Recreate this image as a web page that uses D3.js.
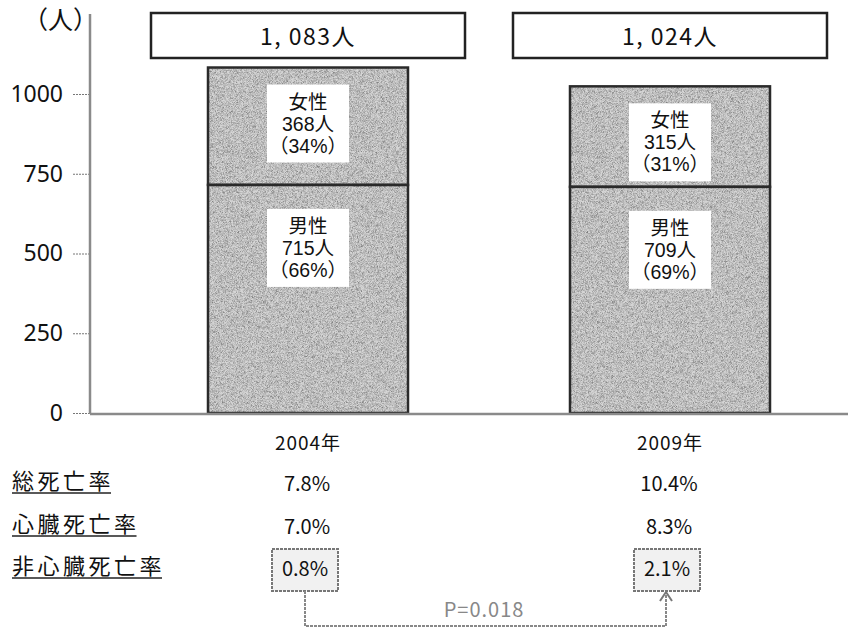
<!DOCTYPE html>
<html><head><meta charset="utf-8">
<script src="https://cdn.jsdelivr.net/npm/d3@7/dist/d3.min.js"></script>
<style>
html,body{margin:0;padding:0;background:#fff;}
svg{display:block;}
text{font-family:"Noto Sans CJK JP","Noto Sans",sans-serif;fill:#111;}
</style></head><body>
<script>
// Survey years and the two stacked groups (men at the bottom, women on top)
const years = ["2004年", "2009年"];
const men = [715, 709];
const women = [368, 315];
const totals = [1083, 1024];
const menPct = ["66%", "69%"];
const womenPct = ["34%", "31%"];
const yTicks = [0, 250, 500, 750, 1000];

// Mortality table under the bars
const rateLabels = ["総死亡率", "心臓死亡率", "非心臓死亡率"];
const totalRate = ["7.8%", "10.4%"];
const cardiacRate = ["7.0%", "8.3%"];
const nonCardiacRate = ["0.8%", "2.1%"];
const pValue = "P=0.018";

const W = 848, H = 629;
const svg = d3.select("body").append("svg").attr("width", W).attr("height", H);

const defs = svg.append("defs");
// fine per-pixel grey speckle laid over the bar fill
const f = defs.append("filter").attr("id", "grain").attr("x", 0).attr("y", 0).attr("width", 1).attr("height", 1);
f.append("feTurbulence").attr("type", "fractalNoise").attr("baseFrequency", 2.2).attr("numOctaves", 1).attr("seed", 5).attr("result", "n");
f.append("feColorMatrix").attr("in", "n").attr("type", "matrix")
  .attr("values", "2.2 0 0 0 -0.45  2.2 0 0 0 -0.45  2.2 0 0 0 -0.45  0 0 0 0 0.45").attr("result", "a");
f.append("feComposite").attr("in", "a").attr("in2", "SourceGraphic").attr("operator", "in").attr("result", "b");
f.append("feMerge").call(m => { m.append("feMergeNode").attr("in", "SourceGraphic"); m.append("feMergeNode").attr("in", "b"); });

const axisX = 90;
const y = d3.scaleLinear().domain([0, 1000]).range([413, 94]);
const x = d3.scaleBand().domain(years).range([208, 770]).paddingInner(0.4475).paddingOuter(0);
// centre of each band
const cx = d => x(d) + x.bandwidth() / 2;

// y axis
const yAxis = d3.axisLeft(y).tickValues(yTicks).tickSize(17).tickPadding(10).tickFormat(d3.format("d"));
const gA = svg.append("g").attr("transform", `translate(${axisX},0)`).call(yAxis);
gA.select(".domain").remove();
gA.selectAll(".tick line").attr("stroke", "#777").attr("stroke-width", 1).attr("stroke-dasharray", "2,1");
gA.selectAll(".tick text").attr("font-size", 23).attr("fill", "#111")
  .style("font-family", "'Noto Sans','Open Sans',sans-serif");
svg.append("line").attr("x1", axisX).attr("x2", axisX).attr("y1", 14).attr("y2", y(0) + 1)
  .attr("stroke", "#8a8a8a").attr("stroke-width", 2.5);
svg.append("text").attr("x", 23).attr("y", 29).attr("font-size", 25).text("（人）");

// stacked bars: grainy fill first, crisp outline on top
const stack = years.map((yr, i) => ({ yr, i }));
const bars = svg.append("g");
stack.forEach(({ yr, i }) => {
  const segs = [[0, men[i]], [men[i], men[i] + women[i]]];
  segs.forEach(([lo, hi]) => {
    bars.append("rect").attr("x", x(yr)).attr("width", x.bandwidth())
      .attr("y", y(hi)).attr("height", y(lo) - y(hi))
      .attr("fill", "#a8a8a8").attr("filter", "url(#grain)");
  });
  segs.forEach(([lo, hi]) => {
    bars.append("rect").attr("x", x(yr)).attr("width", x.bandwidth())
      .attr("y", y(hi)).attr("height", y(lo) - y(hi))
      .attr("fill", "none").attr("stroke", "#2a2a2a").attr("stroke-width", 2.5);
  });
});

// baseline
svg.append("line").attr("x1", axisX).attr("x2", W).attr("y1", y(0) + 1).attr("y2", y(0) + 1)
  .attr("stroke", "#8a8a8a").attr("stroke-width", 2.5);

// white label boxes inside each segment
function segLabel(cxv, top, lines) {
  const g = svg.append("g");
  g.append("rect").attr("x", cxv - 41).attr("y", top).attr("width", 82).attr("height", 78).attr("fill", "#fff");
  const t = g.append("text").attr("text-anchor", "middle").attr("font-size", 19.5)
    .style("font-family", "'Liberation Sans','Noto Sans CJK JP',sans-serif");
  lines.forEach((s, k) => {
    t.append("tspan").attr("x", cxv).attr("y", top + 24 + k * 22).text(s);
  });
}
stack.forEach(({ yr, i }) => {
  const c = cx(yr);
  segLabel(c, y(men[i] + women[i]) + 17, ["女性", women[i] + "人", "（" + womenPct[i] + "）"]);
  segLabel(c, y(men[i]) + 24, ["男性", men[i] + "人", "（" + menPct[i] + "）"]);
});

// totals above the bars
stack.forEach(({ yr, i }) => {
  const c = cx(yr);
  svg.append("rect").attr("x", c - 157).attr("y", 13).attr("width", 314).attr("height", 45)
    .attr("fill", "#fff").attr("stroke", "#222").attr("stroke-width", 2.5);
  svg.append("text").attr("x", c).attr("y", 45).attr("text-anchor", "middle").attr("font-size", 23)
    .attr("letter-spacing", 1.5).text(d3.format(",")(totals[i]).replace(",", ", ") + "人");
});

// year labels
stack.forEach(({ yr }) => {
  svg.append("text").attr("x", cx(yr)).attr("y", 450).attr("text-anchor", "middle").attr("font-size", 19)
    .attr("letter-spacing", 1).text(yr);
});

// mortality rows
const rowY = [489, 532, 574];
const rowVals = [totalRate, cardiacRate, nonCardiacRate];
rateLabels.forEach((lab, r) => {
  const t = svg.append("text").attr("x", 12).attr("y", rowY[r]).attr("font-size", 22)
    .attr("letter-spacing", 3.5).text(lab);
  const w = t.node().getComputedTextLength() - 3;
  svg.append("line").attr("x1", 12).attr("x2", 12 + w).attr("y1", rowY[r] + 4).attr("y2", rowY[r] + 4)
    .attr("stroke", "#222").attr("stroke-width", 1.5);
  stack.forEach(({ yr, i }) => {
    const vx = cx(yr) - (r === 2 ? 3 : 1);
    if (r === 2) {
      svg.append("rect").attr("x", vx - 33).attr("y", 549).attr("width", 66).attr("height", 42)
        .attr("fill", "#f1f1f1").attr("stroke", "#777").attr("stroke-width", 2).attr("stroke-dasharray", "3,1");
    }
    svg.append("text").attr("x", vx).attr("y", rowY[r] + 2).attr("text-anchor", "middle").attr("font-size", 20)
      .text(rowVals[r][i]);
  });
});

// significance bracket with arrow
const x0 = cx(years[0]) - 3, x1 = cx(years[1]) - 4;
svg.append("path")
  .attr("d", `M${x0},591 V626 H${x1} V594`)
  .attr("fill", "none").attr("stroke", "#888").attr("stroke-width", 2).attr("stroke-dasharray", "3,1");
svg.append("path").attr("d", `M${x1 - 6},601 L${x1},592 L${x1 + 6},601`)
  .attr("fill", "none").attr("stroke", "#777").attr("stroke-width", 2);
svg.append("text").attr("x", 484).attr("y", 617).attr("text-anchor", "middle").attr("font-size", 20)
  .attr("letter-spacing", 1).style("fill", "#888").text(pValue);
</script>
</body></html>
